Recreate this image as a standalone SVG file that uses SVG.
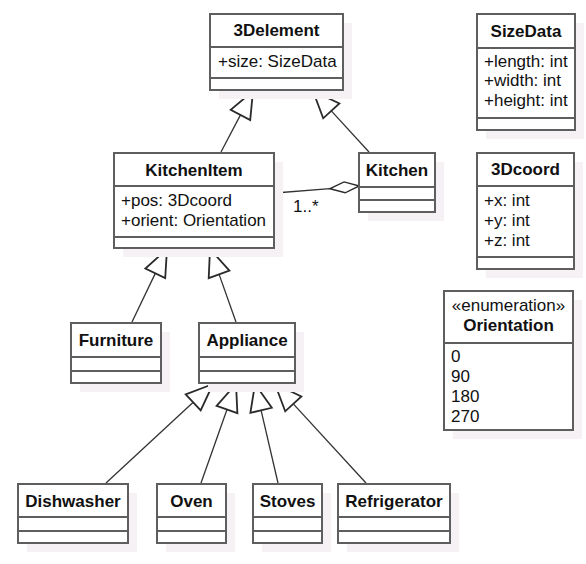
<svg xmlns="http://www.w3.org/2000/svg" width="586" height="564" viewBox="0 0 586 564">
<style>
.sh{fill:#f5f1f5;stroke:none}
.bx{fill:#ffffff;stroke:#5e5e5e;stroke-width:2}
.dv{stroke:#5e5e5e;stroke-width:2;fill:none}
.t{font-family:"Liberation Sans",Arial,sans-serif;font-size:17px;fill:#111}
.b{font-weight:bold;text-anchor:middle}
.c{fill:none;stroke:#333;stroke-width:1.3}
.hd{fill:#fff;stroke:#2a2a2a;stroke-width:1.8;stroke-linejoin:miter}
</style>
<rect width="586" height="564" fill="#fff"/>

<g id="connectors">
<line class="c" x1="221" y1="152" x2="240.5" y2="114.9"/>
<polygon class="hd" points="253,91 250.2,120 230.7,109.8"/>
<line class="c" x1="369" y1="152" x2="331.3" y2="110.9"/>
<polygon class="hd" points="313,91 339.4,103.5 323.2,118.3"/>
<line class="c" x1="132" y1="322" x2="155.3" y2="273.4"/>
<polygon class="hd" points="167,249 165.2,278.1 145.4,268.6"/>
<line class="c" x1="236" y1="322" x2="219.1" y2="274.4"/>
<polygon class="hd" points="210,249 229.4,270.7 208.7,278.1"/>
<line class="c" x1="106" y1="483" x2="193.2" y2="402.3"/>
<polygon class="hd" points="213,384 200.7,410.4 185.7,394.3"/>
<line class="c" x1="201" y1="483" x2="227" y2="409.5"/>
<polygon class="hd" points="236,384 237.4,413.1 216.6,405.8"/>
<line class="c" x1="278" y1="483" x2="261.1" y2="410.3"/>
<polygon class="hd" points="255,384 271.8,407.8 250.4,412.8"/>
<line class="c" x1="366" y1="483" x2="293.3" y2="403.9"/>
<polygon class="hd" points="275,384 301.4,396.4 285.2,411.3"/>
<line class="c" x1="275" y1="193" x2="330" y2="188.7"/>
<polygon class="hd" style="stroke-width:1.4" points="330,188.7 344.1,181.9 359.3,186 345.2,192.8"/>
<text class="t" x="293" y="212">1..*</text>
</g>

<g id="n3Delement">
<rect class="sh" x="219" y="23" width="133" height="76"/>
<rect class="bx" x="210" y="14" width="133" height="76"/>
<path class="dv" d="M210,47 H343 M210,78 H343"/>
<text class="t b" x="276.5" y="36">3Delement</text>
<text class="t" x="218" y="67">+size: SizeData</text>
</g>

<g id="nSizeData">
<rect class="sh" x="486" y="23" width="98" height="116"/>
<rect class="bx" x="477" y="14" width="98" height="116"/>
<path class="dv" d="M477,48 H575 M477,118 H575"/>
<text class="t b" x="526" y="37">SizeData</text>
<text class="t" x="484" y="67">+length: int</text>
<text class="t" x="484" y="86">+width: int</text>
<text class="t" x="484" y="106">+height: int</text>
</g>

<g id="nKitchenItem">
<rect class="sh" x="123" y="162" width="160" height="95"/>
<rect class="bx" x="114" y="153" width="160" height="95"/>
<path class="dv" d="M114,186 H274 M114,237 H274"/>
<text class="t b" x="194" y="176">KitchenItem</text>
<text class="t" x="121" y="206">+pos: 3Dcoord</text>
<text class="t" x="121" y="226">+orient: Orientation</text>
</g>

<g id="nKitchen">
<rect class="sh" x="368" y="162" width="76" height="59"/>
<rect class="bx" x="359" y="153" width="76" height="59"/>
<path class="dv" d="M359,187 H435 M359,200 H435"/>
<text class="t b" x="397" y="176">Kitchen</text>
</g>

<g id="n3Dcoord">
<rect class="sh" x="486" y="162" width="97" height="116"/>
<rect class="bx" x="477" y="153" width="97" height="116"/>
<path class="dv" d="M477,186 H574 M477,257 H574"/>
<text class="t b" x="525.5" y="175">3Dcoord</text>
<text class="t" x="484" y="206">+x: int</text>
<text class="t" x="484" y="226">+y: int</text>
<text class="t" x="484" y="246">+z: int</text>
</g>

<g id="nOrientation">
<rect class="sh" x="453" y="300" width="129" height="139"/>
<rect class="bx" x="444" y="291" width="129" height="139"/>
<path class="dv" d="M444,343 H573"/>
<text class="t" x="508.5" y="311" text-anchor="middle">«enumeration»</text>
<text class="t b" x="508.5" y="331">Orientation</text>
<text class="t" x="451" y="362">0</text>
<text class="t" x="451" y="382">90</text>
<text class="t" x="451" y="402">180</text>
<text class="t" x="451" y="422">270</text>
</g>

<g id="nFurniture">
<rect class="sh" x="80" y="332" width="90" height="60"/>
<rect class="bx" x="71" y="323" width="90" height="60"/>
<path class="dv" d="M71,357 H161 M71,371 H161"/>
<text class="t b" x="116" y="346">Furniture</text>
</g>

<g id="nAppliance">
<rect class="sh" x="208" y="332" width="96" height="60"/>
<rect class="bx" x="199" y="323" width="96" height="60"/>
<path class="dv" d="M199,357 H295 M199,371 H295"/>
<text class="t b" x="247" y="346">Appliance</text>
</g>

<g id="nDishwasher">
<rect class="sh" x="27" y="493" width="110" height="59"/>
<rect class="bx" x="18" y="484" width="110" height="59"/>
<path class="dv" d="M18,517 H128 M18,531 H128"/>
<text class="t b" x="73" y="507">Dishwasher</text>
</g>

<g id="nOven">
<rect class="sh" x="166" y="493" width="69" height="59"/>
<rect class="bx" x="157" y="484" width="69" height="59"/>
<path class="dv" d="M157,517 H226 M157,531 H226"/>
<text class="t b" x="191.5" y="507">Oven</text>
</g>

<g id="nStoves">
<rect class="sh" x="262" y="493" width="69" height="59"/>
<rect class="bx" x="253" y="484" width="69" height="59"/>
<path class="dv" d="M253,517 H322 M253,531 H322"/>
<text class="t b" x="287.5" y="507">Stoves</text>
</g>

<g id="nRefrigerator">
<rect class="sh" x="347" y="493" width="112" height="59"/>
<rect class="bx" x="338" y="484" width="112" height="59"/>
<path class="dv" d="M338,517 H450 M338,531 H450"/>
<text class="t b" x="394" y="507">Refrigerator</text>
</g>
</svg>
